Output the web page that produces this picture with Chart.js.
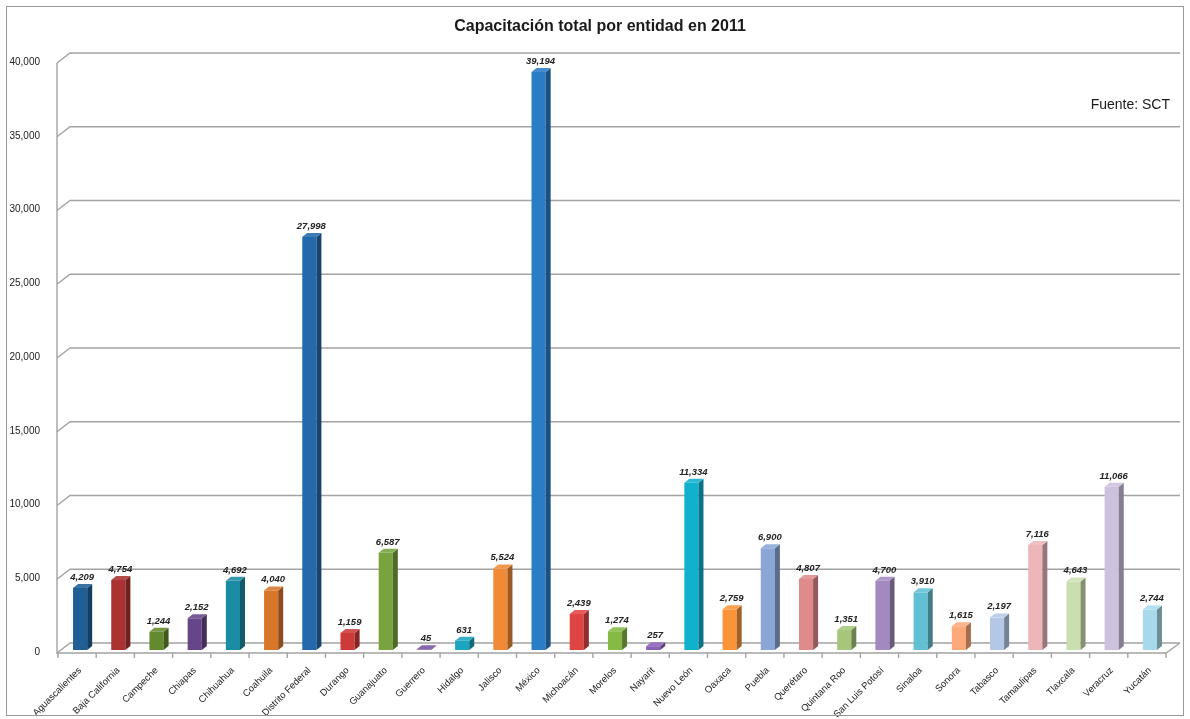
<!doctype html>
<html>
<head>
  <meta charset="utf-8" />
  <title>Capacitación total por entidad en 2011</title>
  <script src="https://cdn.jsdelivr.net/npm/chart.js"></script>
  <style>
    html, body { margin: 0; padding: 0; background: #fff; }
    #wrap { position: relative; width: 1190px; height: 719px; }
  </style>
</head>
<body>
  <div id="wrap"><canvas id="capChart"></canvas></div>
  <script>
    const estados = ['Aguascalientes', 'Baja California', 'Campeche', 'Chiapas', 'Chihuahua', 'Coahuila',
      'Distrito Federal', 'Durango', 'Guanajuato', 'Guerrero', 'Hidalgo', 'Jalisco', 'México', 'Michoacán',
      'Morelos', 'Nayarit', 'Nuevo León', 'Oaxaca', 'Puebla', 'Querétaro', 'Quintana Roo', 'San Luis Potosí',
      'Sinaloa', 'Sonora', 'Tabasco', 'Tamaulipas', 'Tlaxcala', 'Veracruz', 'Yucatán'];
    const capacitados = [4209, 4754, 1244, 2152, 4692, 4040, 27998, 1159, 6587, 45, 631, 5524, 39194, 2439,
      1274, 257, 11334, 2759, 6900, 4807, 1351, 4700, 3910, 1615, 2197, 7116, 4643, 11066, 2744];
    const colores = ['#1F5F95', '#AA3230', '#638A2D', '#664689', '#1B8CA3', '#D8762A', '#2369AC', '#CC3B39',
      '#78A33E', '#7751A0', '#1AA5C0', '#F08A36', '#2A7CC6', '#E04545', '#85BA45', '#8A5FB8', '#0FB1CD',
      '#FB9438', '#89A6D6', '#E08B8B', '#A6C77B', '#A28AC1', '#62BFD4', '#FCAA7A', '#B4C7E5', '#EDB6B8',
      '#CADFAF', '#CDC1DE', '#A7D9EA'];
    const yTicks = [0, 5000, 10000, 15000, 20000, 25000, 30000, 35000, 40000];

    const fmt = v => v.toLocaleString('en-US');

    function shade(hex, f) {
      let n = parseInt(hex.slice(1), 16);
      let r = (n >> 16) & 255, g = (n >> 8) & 255, b = n & 255;
      if (f < 0) { r *= 1 + f; g *= 1 + f; b *= 1 + f; }
      else { r += (255 - r) * f; g += (255 - g) * f; b += (255 - b) * f; }
      return 'rgb(' + Math.round(r) + ',' + Math.round(g) + ',' + Math.round(b) + ')';
    }

    const lineColor = '#A3A3A3';
    const shift = 3;      // bars sit a bit behind the front plane
    const back = { dx: 13, dy: -10 };

    const frame = {
      id: 'frame',
      beforeDatasetsDraw(chart) {
        const c = chart.ctx, x = chart.scales.x, y = chart.scales.y;
        const left = chart.chartArea.left - 4, right = chart.chartArea.right - shift;
        c.save();
        // outer border
        c.strokeStyle = '#9A9A9A';
        c.lineWidth = 1;
        c.strokeRect(6.5, 6.5, 1177, 709);
        // title + source
        c.fillStyle = '#1a1a1a';
        c.textAlign = 'center';
        c.textBaseline = 'middle';
        c.font = 'bold 16px "Liberation Sans"';
        c.fillText('Capacitación total por entidad en 2011', 600, 27);
        c.font = '14px "Liberation Sans"';
        c.textAlign = 'right';
        c.fillText('Fuente: SCT', 1170, 105);
        // back wall gridlines with the short diagonal to the axis
        c.strokeStyle = lineColor;
        c.lineWidth = 1.4;
        yTicks.forEach(v => {
          const py = y.getPixelForValue(v) + 3;
          c.beginPath();
          c.moveTo(left, py);
          c.lineTo(left + back.dx, py + back.dy);
          c.lineTo(right + 14, py + back.dy);
          c.stroke();
        });
        // value axis and floor front edge
        const y0 = y.getPixelForValue(0) + 3;
        c.beginPath();
        c.moveTo(left, y.getPixelForValue(40000) + 3);
        c.lineTo(left, y0);
        c.lineTo(right, y0);
        c.lineTo(right + 14, y0 + back.dy);
        c.stroke();
        // category tick marks
        const step = (chart.chartArea.right - chart.chartArea.left) / estados.length;
        for (let i = 0; i <= estados.length; i++) {
          const px = chart.chartArea.left - shift + i * step;
          c.beginPath();
          c.moveTo(px, y0);
          c.lineTo(px, y0 + 5);
          c.stroke();
        }
        c.restore();
      },
      afterDatasetsDraw(chart) {
        const c = chart.ctx;
        const meta = chart.getDatasetMeta(0);
        c.save();
        meta.data.forEach((bar, i) => {
          const p = bar.getProps(['x', 'y', 'base', 'width'], true);
          const l = p.x - p.width / 2, r = p.x + p.width / 2;
          const dx = 5, dy = -4;
          // side face
          c.fillStyle = shade(colores[i], -0.35);
          c.beginPath();
          c.moveTo(r, p.y);
          c.lineTo(r + dx, p.y + dy);
          c.lineTo(r + dx, p.base + dy);
          c.lineTo(r, p.base);
          c.closePath();
          c.fill();
          // top face
          c.fillStyle = shade(colores[i], 0.12);
          c.beginPath();
          c.moveTo(l, p.y);
          c.lineTo(r, p.y);
          c.lineTo(r + dx, p.y + dy);
          c.lineTo(l + dx, p.y + dy);
          c.closePath();
          c.fill();
          // value label
          c.fillStyle = '#222';
          c.font = 'italic bold 9.5px "Liberation Sans"';
          c.textAlign = 'center';
          c.textBaseline = 'bottom';
          c.fillText(fmt(capacitados[i]), p.x + 2, p.y - 6);
        });
        c.restore();
      }
    };

    new Chart(document.getElementById('capChart'), {
      type: 'bar',
      data: {
        labels: estados,
        datasets: [{
          data: capacitados,
          backgroundColor: colores,
          borderWidth: 0,
          barPercentage: 0.37,
          categoryPercentage: 1
        }]
      },
      options: {
        responsive: true,
        maintainAspectRatio: false,
        animation: false,
        layout: { padding: { top: 60, right: 21, left: 0, bottom: 0 } },
        plugins: { legend: { display: false }, tooltip: { enabled: false }, title: { display: false } },
        scales: {
          x: {
            grid: { display: false },
            border: { display: false },
            afterFit: s => { s.height = 69; },
            ticks: {
              autoSkip: false,
              minRotation: 45,
              maxRotation: 45,
              padding: 7,
              color: '#222',
              font: { family: 'Liberation Sans', size: 9.5 }
            }
          },
          y: {
            min: 0,
            max: 40000,
            grid: { display: false },
            border: { display: false },
            afterFit: s => { s.width = 61; },
            afterBuildTicks: s => { s.ticks = yTicks.map(v => ({ value: v })); },
            ticks: {
              padding: 13,
              labelOffset: 2,
              color: '#222',
              font: { family: 'Liberation Sans', size: 10 },
              callback: v => fmt(v)
            }
          }
        }
      },
      plugins: [frame]
    });
  </script>
</body>
</html>
